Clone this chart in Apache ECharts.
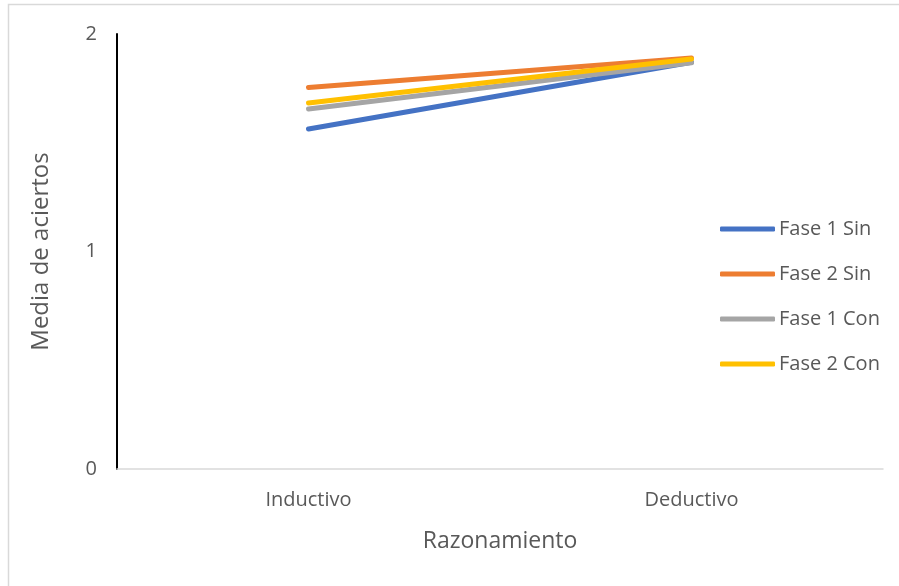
<!DOCTYPE html>
<html>
<head>
<meta charset="utf-8">
<script src="https://cdn.jsdelivr.net/npm/echarts@6/dist/echarts.min.js"></script>
<style>
  html, body { margin: 0; padding: 0; background: #fff; }
  #chart { width: 899px; height: 586px; }
</style>
</head>
<body>
<div id="chart"></div>
<script>
// Categories and mean hits per group
const categories = ['Inductivo', 'Deductivo'];
const fase1Sin = [1.563, 1.870];
const fase2Sin = [1.754, 1.890];
const fase1Con = [1.655, 1.868];
const fase2Con = [1.683, 1.885];
const yTicks = [0, 1, 2];

const seriesDefs = [
  { name: 'Fase 1 Sin', data: fase1Sin, color: '#4472C4' },
  { name: 'Fase 2 Sin', data: fase2Sin, color: '#ED7D31' },
  { name: 'Fase 1 Con', data: fase1Con, color: '#A5A5A5' },
  { name: 'Fase 2 Con', data: fase2Con, color: '#FFC000' }
];

const font = 'Open Sans';
const chart = echarts.init(document.getElementById('chart'), null, { renderer: 'canvas' });

chart.setOption({
  animation: false,
  backgroundColor: '#fff',
  graphic: [{
    type: 'rect',
    shape: { x: 8.5, y: 4.5, width: 1200, height: 1200 },
    style: { fill: 'none', stroke: '#d9d9d9', lineWidth: 1.5 },
    silent: true
  }],
  grid: { left: 117, right: 16, top: 34, bottom: 117 },
  legend: {
    orient: 'vertical',
    left: 715,
    top: 214,
    itemWidth: 55,
    itemHeight: 5,
    itemGap: 25,
    icon: 'roundRect',
    textStyle: { color: '#595959', fontSize: 20, fontFamily: font, padding: [0, 0, 0, -1] },
    data: seriesDefs.map(s => s.name)
  },
  xAxis: {
    type: 'category',
    data: categories,
    boundaryGap: true,
    name: 'Razonamiento',
    nameLocation: 'middle',
    nameGap: 61,
    nameTextStyle: { color: '#595959', fontSize: 23, fontFamily: font },
    axisLine: { lineStyle: { color: '#d9d9d9', width: 1.5 } },
    axisTick: { show: false },
    axisLabel: { color: '#595959', fontSize: 20, fontFamily: font, margin: 21 }
  },
  yAxis: {
    type: 'value',
    min: 0,
    max: 2,
    interval: 1,
    name: 'Media de aciertos',
    nameLocation: 'middle',
    nameGap: 64,
    nameTextStyle: { color: '#595959', fontSize: 24, fontFamily: font },
    axisLine: { show: true, lineStyle: { color: '#000', width: 2 } },
    axisTick: { show: false },
    splitLine: { show: false },
    axisLabel: {
      color: '#595959', fontSize: 20, fontFamily: font, margin: 20,
      formatter: v => (yTicks.includes(v) ? String(v) : '')
    }
  },
  series: seriesDefs.map(s => ({
    name: s.name,
    type: 'line',
    data: s.data,
    symbol: 'none',
    color: s.color,
    lineStyle: { color: s.color, width: 5, cap: 'round' },
    itemStyle: { color: s.color }
  }))
});
</script>
</body>
</html>
